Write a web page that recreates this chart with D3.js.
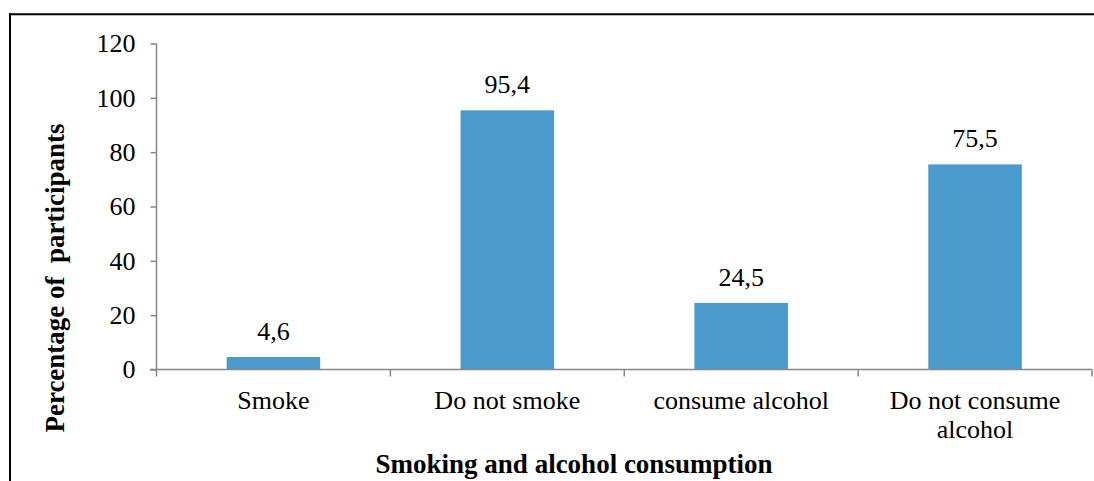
<!DOCTYPE html>
<html>
<head>
<meta charset="utf-8">
<script src="https://cdn.jsdelivr.net/npm/d3@7"></script>
<style>
  html, body { margin: 0; padding: 0; background: #fff; }
  svg { display: block; }
</style>
</head>
<body>
<svg id="chart" width="1094" height="481"></svg>
<script>
// Share of participants by smoking / alcohol status
const categories = ["Smoke", "Do not smoke", "consume alcohol", "Do not consume alcohol"];
const categoryLines = [["Smoke"], ["Do not smoke"], ["consume alcohol"], ["Do not consume", "alcohol"]];
const values = [4.6, 95.4, 24.5, 75.5];
const valueLabels = ["4,6", "95,4", "24,5", "75,5"];
const yTicks = [0, 20, 40, 60, 80, 100, 120];

const FONT = "'Liberation Serif', 'Times New Roman', Times, serif";

const svg = d3.select("#chart");

// frame lines (top and left)
svg.append("line").attr("x1", 9).attr("x2", 1094).attr("y1", 14.3).attr("y2", 14.3)
  .attr("stroke", "#000").attr("stroke-width", 2);
svg.append("line").attr("x1", 10).attr("x2", 10).attr("y1", 13.3).attr("y2", 481)
  .attr("stroke", "#000").attr("stroke-width", 2);

const x = d3.scaleBand().domain(categories).range([156.5, 1092])
  .paddingInner(0.6).paddingOuter(0.3);
const y = d3.scaleLinear().domain([0, 120]).range([369.5, 43.5]);

const axisColor = "#868686";

// y axis
const yAxis = svg.append("g").attr("transform", "translate(156.5,0)")
  .call(d3.axisLeft(y).tickValues(yTicks).tickSize(6).tickPadding(15).tickFormat(d3.format("d")));
yAxis.attr("font-family", null).attr("font-size", null);
yAxis.select(".domain").attr("stroke", axisColor).attr("stroke-width", 1.5).attr("d", `M0,${y(120)}V${y(0)}`);
yAxis.selectAll(".tick line").attr("stroke", axisColor).attr("stroke-width", 1.5);
yAxis.selectAll(".tick text")
  .style("font-family", FONT).style("font-size", "26px").attr("fill", "#000");

// bars
svg.append("g").selectAll("rect").data(values).join("rect")
  .attr("x", (d, i) => x(categories[i]))
  .attr("width", x.bandwidth())
  .attr("y", d => y(d))
  .attr("height", d => y(0) - y(d))
  .attr("fill", "#4a9bcb");

// value labels
svg.append("g").selectAll("text").data(values).join("text")
  .attr("x", (d, i) => x(categories[i]) + x.bandwidth() / 2)
  .attr("y", d => y(d) - 17)
  .attr("text-anchor", "middle")
  .style("font-family", FONT).style("font-size", "26px")
  .text((d, i) => valueLabels[i]);

// x axis line with category boundary ticks
const step = x.step();
const bounds = d3.range(categories.length + 1).map(i => 156.5 + i * step);
svg.append("path")
  .attr("d", `M150,${y(0)}H${bounds[bounds.length - 1]}`)
  .attr("stroke", axisColor).attr("stroke-width", 1.5).attr("fill", "none");
svg.append("g").selectAll("line").data(bounds).join("line")
  .attr("x1", d => d).attr("x2", d => d)
  .attr("y1", y(0)).attr("y2", y(0) + 7)
  .attr("stroke", axisColor).attr("stroke-width", 1.5);

// category labels
const catG = svg.append("g").selectAll("text").data(categories).join("text")
  .attr("x", d => x(d) + x.bandwidth() / 2)
  .attr("y", 409)
  .attr("text-anchor", "middle")
  .style("font-family", FONT).style("font-size", "26px");
catG.selectAll("tspan").data((d, i) => categoryLines[i]).join("tspan")
  .attr("x", function () { return d3.select(this.parentNode).attr("x"); })
  .attr("dy", (d, j) => j === 0 ? 0 : 29)
  .text(d => d);

// axis titles
svg.append("text")
  .attr("x", 574).attr("y", 473)
  .attr("text-anchor", "middle")
  .style("font-family", FONT).style("font-size", "27px").style("font-weight", "bold")
  .text("Smoking and alcohol consumption");

svg.append("text")
  .attr("transform", "translate(64,278) rotate(-90)")
  .attr("text-anchor", "middle")
  .style("font-family", FONT).style("font-size", "27px").style("font-weight", "bold")
  .style("white-space", "pre")
  .text("Percentage of  participants");
</script>
</body>
</html>
